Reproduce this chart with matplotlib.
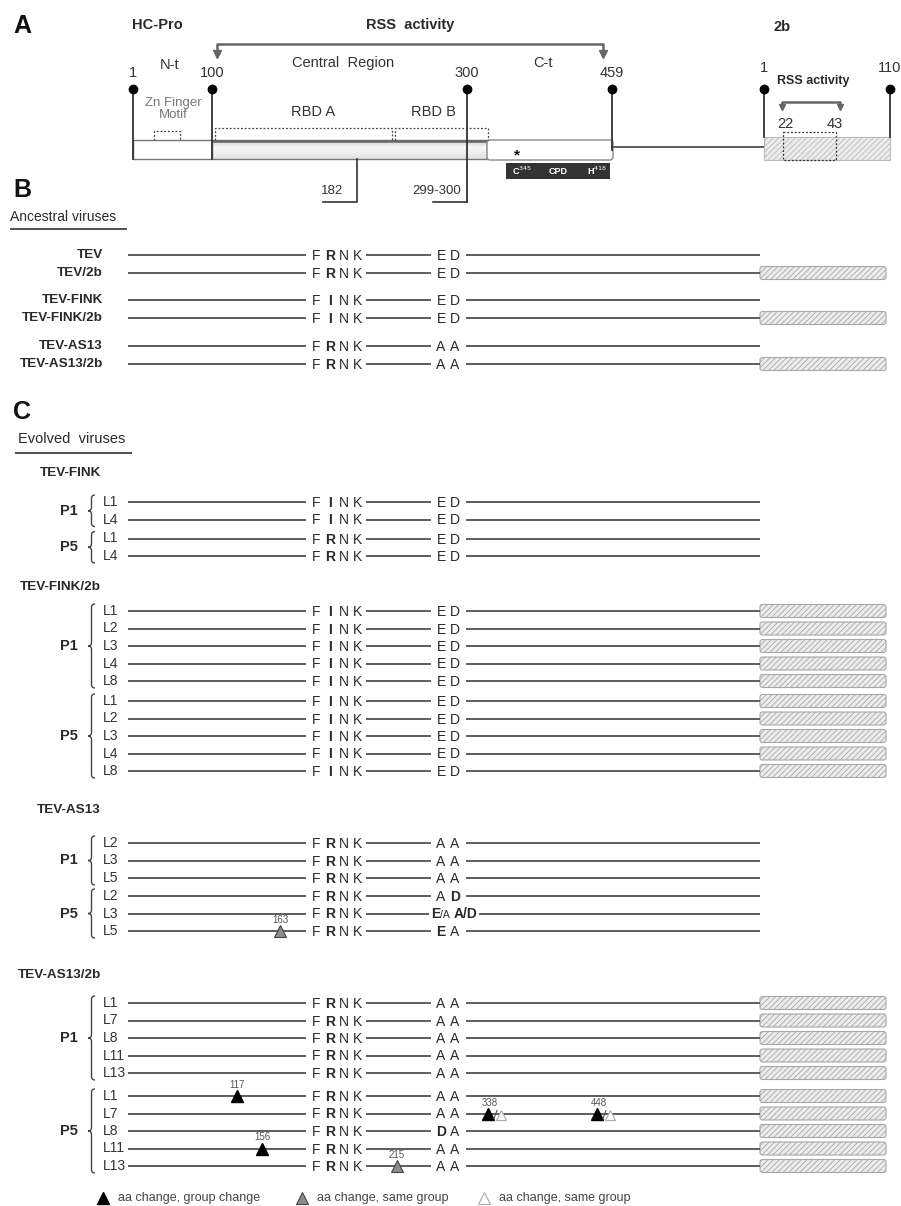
import numpy as np
import matplotlib.pyplot as plt
from matplotlib.patches import Rectangle, FancyBboxPatch, PathPatch
from matplotlib.path import Path

plt.rcParams['font.family'] = ['Liberation Sans', 'DejaVu Sans']
plt.rcParams['hatch.linewidth'] = 0.6

#----- data -----
hcpro_marks = ['1', '100', '300', '459']
b2_marks = ['1', '110']
b2_rss = ['22', '43']

anc_names = ['TEV', 'TEV/2b', 'TEV-FINK', 'TEV-FINK/2b', 'TEV-AS13', 'TEV-AS13/2b']
anc_motif = ['F*RNK', 'F*RNK', 'F*INK', 'F*INK', 'F*RNK', 'F*RNK']
anc_pair = ['ED', 'ED', 'ED', 'ED', 'AA', 'AA']
anc_2b = [0, 1, 0, 1, 0, 1]

evo_groups = ['TEV-FINK', 'TEV-FINK/2b', 'TEV-AS13', 'TEV-AS13/2b']
evo_has2b = [0, 1, 0, 1]
evo_p1 = [['L1', 'L4'],
          ['L1', 'L2', 'L3', 'L4', 'L8'],
          ['L2', 'L3', 'L5'],
          ['L1', 'L7', 'L8', 'L11', 'L13']]
evo_p5 = [['L1', 'L4'],
          ['L1', 'L2', 'L3', 'L4', 'L8'],
          ['L2', 'L3', 'L5'],
          ['L1', 'L7', 'L8', 'L11', 'L13']]
evo_p1_motif = ['F*INK', 'F*INK', 'F*RNK', 'F*RNK']
evo_p5_motif = ['F*RNK', 'F*INK', 'F*RNK', 'F*RNK']
evo_p1_pair = [['ED'] * 2, ['ED'] * 5, ['AA'] * 3, ['AA'] * 5]
evo_p5_pair = [['ED'] * 2, ['ED'] * 5,
               ['A*D', '*E/A A/D', '*EA'],
               ['AA', 'AA', '*DA', 'AA', 'AA']]

# (group, passage, lineage, residue, kind)
mutations = [('TEV-AS13', 'P5', 'L5', 163, 'same'),
             ('TEV-AS13/2b', 'P5', 'L1', 117, 'group'),
             ('TEV-AS13/2b', 'P5', 'L11', 156, 'group'),
             ('TEV-AS13/2b', 'P5', 'L13', 215, 'same'),
             ('TEV-AS13/2b', 'P5', 'L7', 338, 'both'),
             ('TEV-AS13/2b', 'P5', 'L7', 448, 'both')]

legend_labels = ['aa change, group change', 'aa change, same group', 'aa change, same group']

#----- layout -----
LINE = '#505050'
TXT = '#2a2a2a'
GREY = '#666666'
# schematic (not to scale) residue -> x
sch_res = [1, 117, 156, 163, 182, 183, 215, 299, 301, 338, 448, 459]
sch_x = [128, 237, 262, 280, 306, 366, 397, 431, 466, 488, 597, 758]

fig = plt.figure(figsize=(9.01, 12.06), dpi=100)
ax = fig.add_axes([0, 0, 1, 1])
ax.set_xlim(0, 901)
ax.set_ylim(1206, 0)
ax.axis('off')


def txt(x, y, s, size=10, bold=False, color=TXT, ha='left', va='center', **kw):
	ax.text(x, y, s, fontsize=size, fontweight='bold' if bold else 'normal',
		color=color, ha=ha, va=va, **kw)


def hline(x1, x2, y, lw=1.3, color=LINE, **kw):
	ax.plot([x1, x2], [y, y], color=color, lw=lw, solid_capstyle='butt', **kw)


def box2b(x1, x2, y, h=13):
	p = FancyBboxPatch((x1, y - h / 2), x2 - x1, h, boxstyle='round,pad=0,rounding_size=2.5',
		facecolor='#ececec', edgecolor='#a8a8a8', hatch='//////', lw=0.8)
	ax.add_patch(p)


def brace(x, y0, y1, w=7, color='#444444'):
	ym = (y0 + y1) / 2
	h = w / 2
	verts = [(x + w, y0), (x + h, y0), (x + h, y0 + h),
		(x + h, ym - h), (x + h, ym), (x, ym),
		(x + h, ym), (x + h, ym + h),
		(x + h, y1 - h), (x + h, y1), (x + w, y1)]
	codes = [Path.MOVETO, Path.CURVE3, Path.CURVE3,
		Path.LINETO, Path.CURVE3, Path.CURVE3,
		Path.CURVE3, Path.CURVE3,
		Path.LINETO, Path.CURVE3, Path.CURVE3]
	ax.add_patch(PathPatch(Path(verts, codes), fill=False, edgecolor=color, lw=1.0))


def letters(x0, y, code, step=14, size=10):
	bold = False
	i = 0
	for ch in code:
		if ch == '*':
			bold = True
			continue
		txt(x0 + i * step, y + 5, ch, size=size, bold=bold, ha='center', va='baseline')
		bold = False
		i += 1


def sequence_row(y, motif, pair, has2b):
	hline(128, 306, y)
	letters(316, y, motif)
	end2 = 431
	end3 = 466
	if '/' in pair:
		# mixed population, e.g. E/A A/D
		first, second = pair.replace('*', '').split(' ')
		end2 = 429
		txt(431, y + 5, first[0], bold=True, va='baseline')
		txt(439.5, y + 5, first[1:], size=7.5, va='baseline')
		txt(454, y + 5, second, bold=True, va='baseline')
		end3 = 479
	else:
		letters(441, y, pair)
	hline(366, end2, y)
	hline(end3, 760, y)
	if has2b:
		box2b(760, 886, y)


def tri(x, y, kind):
	if kind == 'group':
		ax.plot(x, y, marker='^', ms=9, mfc='k', mec='k', zorder=5)
	elif kind == 'same':
		ax.plot(x, y, marker='^', ms=9, mfc='#8c8c8c', mec='#444444', mew=0.8, zorder=5)
	else:
		ax.plot(x, y, marker='^', ms=9, mfc='k', mec='k', zorder=5)
		ax.plot([x + 6, x + 9], [y + 5, y - 3], color='#555555', lw=0.8, zorder=5)
		ax.plot(x + 13, y + 1.5, marker='^', ms=7, mfc='white', mec='#aaaaaa', mew=0.8, zorder=5)


#----- PANEL A -----
txt(13, 26, 'A', size=18, bold=True, color='#111111')
txt(157, 25, 'HC-Pro', size=10.5, bold=True, ha='center')
txt(410, 25, 'RSS  activity', size=10.5, bold=True, ha='center')
txt(773, 27, '2b', size=10.5, bold=True)

# RSS bracket
ax.plot([217, 217, 603, 603], [53, 44, 44, 53], color=GREY, lw=1.8)
ax.plot([217, 603], [54, 54], 'v', ms=6, color=GREY, ls='none')
ax.plot([782, 782, 840, 840], [107, 102, 102, 107], color=GREY, lw=1.8)
ax.plot([782, 840], [107, 107], 'v', ms=5, color=GREY, ls='none')

txt(170, 65, 'N-t', size=10.5, ha='center', color='#333333')
txt(343, 63, 'Central  Region', size=10.5, ha='center', color='#333333')
txt(543, 63, 'C-t', size=10.5, ha='center', color='#333333')
txt(173, 109, 'Zn Finger\nMotif', size=9.5, ha='center', color='#777777', linespacing=1.1)
txt(313, 112, 'RBD A', size=10.5, ha='center', color='#333333')
txt(433, 112, 'RBD B', size=10.5, ha='center', color='#333333')

# polyprotein bar
ax.add_patch(Rectangle((133, 140), 79, 19, facecolor='white', edgecolor='#777777', lw=1))
grad = np.concatenate([np.linspace(0.80, 0.97, 8), np.linspace(0.97, 0.88, 12)])
ax.imshow(grad[:, None], cmap='gray', vmin=0, vmax=1, extent=(212, 487, 159, 140),
	aspect='auto', zorder=1)
ax.add_patch(Rectangle((212, 140), 275, 19, fill=False, edgecolor='#777777', lw=1, zorder=2))
hline(212, 487, 140.5, lw=1.8, color='#666666', zorder=2)
ax.add_patch(FancyBboxPatch((487, 140), 126, 20, boxstyle='round,pad=0,rounding_size=3',
	facecolor='white', edgecolor='#888888', lw=1, zorder=2))
hline(613, 764, 147, lw=1.3)
ax.add_patch(Rectangle((764, 137), 126, 23, facecolor='#ececec', edgecolor='#bbbbbb',
	hatch='//////', lw=0.8))
ax.add_patch(Rectangle((783, 132), 53, 28, fill=False, edgecolor='#333333', lw=0.9, ls=(0, (1.5, 1.5))))

# dotted domain boxes
for x1, x2, yt in [(154, 180, 131), (215, 392, 128), (395, 488, 128)]:
	ax.plot([x1, x1, x2, x2], [140, yt, yt, 140], color='#444444', lw=0.9, ls=(0, (1.5, 1.5)))

# pins
pin_x = [133, 212, 467, 612]
pin_end = [159, 159, 202, 150]
for x, e, lab in zip(pin_x, pin_end, hcpro_marks):
	ax.plot([x, x], [89, e], color='#333333', lw=1.3, zorder=3)
	ax.plot(x, 89, 'o', ms=6, color='k', zorder=4)
	txt(x, 73, lab, size=10.5, ha='center', color='#333333')
for x, lab in zip([764, 890], b2_marks):
	ax.plot([x, x], [89, 137], color='#333333', lw=1.3, zorder=3)
	ax.plot(x, 89, 'o', ms=6, color='k', zorder=4)
	txt(x, 68, lab, size=10.5, ha='center', color='#333333')
txt(813, 81, 'RSS activity', size=9, bold=True, ha='center')
for x, lab in zip([785, 835], b2_rss):
	txt(x, 124, lab, size=10.5, ha='center', color='#333333')

# 182 and 299-300
ax.plot([357, 357, 323], [159, 202, 202], color='#333333', lw=1.2)
ax.plot([467, 433], [202, 202], color='#333333', lw=1.2)
txt(332, 191, '182', size=9.5, ha='center', color='#333333')
txt(437, 191, '299-300', size=9.5, ha='center', color='#333333')

# CPD
ax.add_patch(Rectangle((506, 163), 104, 16, facecolor='#333333', edgecolor='none'))
txt(522, 171, r'C$^{345}$', size=6.5, bold=True, color='white', ha='center')
txt(558, 172, 'CPD', size=6.5, bold=True, color='white', ha='center')
txt(597, 171, r'H$^{418}$', size=6.5, bold=True, color='white', ha='center')
txt(517, 155, '*', size=11, bold=True, ha='center', color='#111111')

#----- PANEL B -----
txt(13, 190, 'B', size=18, bold=True, color='#111111')
txt(10, 217, 'Ancestral viruses', size=10)
hline(10, 127, 229, lw=1.2, color='#333333')
anc_y = [255, 273, 300, 318, 346, 364]
for y, name, m, p, h in zip(anc_y, anc_names, anc_motif, anc_pair, anc_2b):
	txt(103, y, name, size=9.7, bold=True, ha='right')
	sequence_row(y, m, p, h)

#----- PANEL C -----
txt(13, 412, 'C', size=18, bold=True, color='#111111')
txt(18, 439, 'Evolved  viruses', size=10.5)
hline(15, 132, 453, lw=1.2, color='#333333')

hdr_y = [473, 587, 810, 975]
first_off = [29, 24, 33, 28]
pass_gap = [19, 20, 18, 23]
row_dy = 17.5
row_pos = {}
for g, name in enumerate(evo_groups):
	txt(101, hdr_y[g], name, size=9.7, bold=True, ha='right')
	y = hdr_y[g] + first_off[g]
	for pas, lins, motif, pairs in [('P1', evo_p1[g], evo_p1_motif[g], evo_p1_pair[g]),
			('P5', evo_p5[g], evo_p5_motif[g], evo_p5_pair[g])]:
		ys = []
		for lin, pr in zip(lins, pairs):
			txt(103, y, lin, size=10, color='#333333')
			sequence_row(y, motif, pr, evo_has2b[g])
			row_pos[(name, pas, lin)] = y
			ys.append(y)
			y += row_dy
		brace(88, ys[0] - 7, ys[-1] + 7)
		txt(78, (ys[0] + ys[-1]) / 2, pas, size=10.5, bold=True, ha='right')
		y = ys[-1] + pass_gap[g]

for grp, pas, lin, res, kind in mutations:
	y = row_pos[(grp, pas, lin)]
	x = np.interp(res, sch_res, sch_x)
	tri(x, y, kind)
	txt(x + (2 if kind == 'both' else 0), y - 11, str(res), size=7, ha='center', color='#555555')

# legend
ly = 1198
ax.plot(103, ly, marker='^', ms=9, mfc='k', mec='k')
txt(118, ly, legend_labels[0], size=9, color='#444444')
ax.plot(302, ly, marker='^', ms=9, mfc='#8c8c8c', mec='#444444', mew=0.8)
txt(317, ly, legend_labels[1], size=9, color='#444444')
ax.plot(484, ly, marker='^', ms=9, mfc='white', mec='#aaaaaa', mew=0.8)
txt(499, ly, legend_labels[2], size=9, color='#444444')

fig.savefig('out.png', dpi=100, facecolor='white')
